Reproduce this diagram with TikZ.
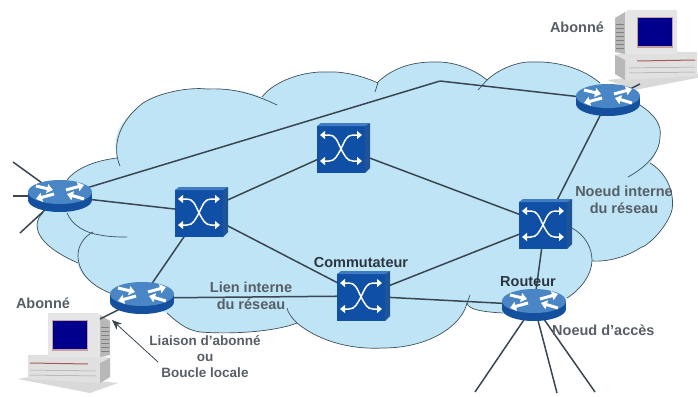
\documentclass[tikz,border=0pt]{standalone}
\usepackage{fontspec}
\setmainfont{Liberation Sans}
\usetikzlibrary{arrows.meta}
\definecolor{cloudfill}{HTML}{BEE4F6}
\definecolor{cloudline}{HTML}{3F5058}
\definecolor{linkcol}{HTML}{3A4650}
\definecolor{swfront}{HTML}{0F50A6}
\definecolor{swtop}{HTML}{3F7CC4}
\definecolor{swside}{HTML}{1F5596}
\definecolor{rttop}{HTML}{4A86C6}
\definecolor{rtside}{HTML}{14509E}
\definecolor{txtdark}{HTML}{2B3640}
\definecolor{txtgray}{HTML}{565E66}
\tikzset{
  x=1pt,y=-1pt,
  devpt/.style={inner sep=0pt,minimum size=0pt},
  outline/.style={draw=cloudline,line width=0.7pt},
  link/.style={draw=linkcol,line width=1.5pt},
  darklabel/.style={font=\fontsize{14.5}{17}\selectfont\bfseries,text=txtdark,align=center,inner sep=0pt},
  graylabel/.style={font=\fontsize{14.5}{17}\selectfont\bfseries,text=txtgray,align=center,inner sep=0pt},
  smalllabel/.style={font=\fontsize{13.5}{16}\selectfont\bfseries,text=txtgray,align=center,inner sep=0pt},
  rarrow/.style={white,line width=3pt,-{Triangle[length=6pt,width=9pt]}},
  sarrow/.style={white,line width=1.5pt,{Triangle[length=5pt,width=8pt]}-{Triangle[length=5pt,width=8pt]}},
  routericon/.pic={
    \fill[rtside] (-32,-4) rectangle (32,4);
    \fill[rtside] (0,4) ellipse (32pt and 12pt);
    \fill[rttop] (0,-4) ellipse (32pt and 12pt);
    \draw[rarrow] (-24,-10) -- (-7,-6);
    \draw[rarrow] (6,-6) -- (24,-11);
    \draw[rarrow] (-6,-2) -- (-24,3);
    \draw[rarrow] (24,3) -- (7,-2);
  },
  switchicon/.pic={
    \fill[swfront] (-26,-22) rectangle (22,25);
    \fill[swtop] (-26,-22) -- (-22,-25) -- (27,-25) -- (22,-22) -- cycle;
    \fill[swside] (22,-22) -- (27,-25) -- (27,20) -- (22,25) -- cycle;
    \draw[sarrow] (-23,-13) -- (-14,-13) .. controls (-8,-13) and (-6,-8) .. (-2,1) .. controls (2,8) and (4,13) .. (10,13) -- (19,13);
    \draw[sarrow] (-23,13) -- (-14,13) .. controls (-8,13) and (-6,8) .. (-2,1) .. controls (2,-8) and (4,-13) .. (10,-13) -- (19,-13);
  },
  computericon/.pic={
    \fill[black!15] (-8,70) -- (70,62) -- (92,66) -- (20,80) -- cycle;
    \fill[black!12] (0,45) -- (10,42) -- (82,42) -- (82,66) -- (10,70) -- (0,64) -- cycle;
    \fill[black!28] (0,45) -- (10,50) -- (10,70) -- (0,64) -- cycle;
    \draw[red!30!gray,line width=1pt] (22,51) -- (80,50);
    \draw[gray!70,line width=0.5pt] (14,58) -- (80,57);
    \draw[gray!70,line width=0.5pt] (14,63) -- (80,62);
    \fill[black!28] (0,8) -- (10,2) -- (10,44) -- (0,42) -- cycle;
    \foreach \k in {14,18,...,38} \draw[gray,line width=0.5pt] (1,\k) -- (9,\k);
    \fill[black!10] (10,2) -- (13,0) -- (62,0) -- (62,44) -- (10,44) -- cycle;
    \fill[red!25!gray!60!white] (22,7) rectangle (58,38);
    \fill[blue!55!black] (23,8) rectangle (57,36);
  }
}
\begin{document}
\begin{tikzpicture}
\useasboundingbox (0,0) rectangle (698,396);
% cloud body
\fill[cloudfill] (60,190) -- (67,180) .. controls (78,166) and (100,160) .. (117,158)
  .. controls (113,140) and (115,125) .. (143,103)
  .. controls (160,92) and (190,87) .. (207,89)
  .. controls (230,88) and (250,92) .. (262,97)
  .. controls (275,80) and (305,71) .. (327,72)
  .. controls (345,71) and (365,77) .. (377,83)
  .. controls (392,68) and (412,62) .. (433,62)
  .. controls (455,61) and (475,70) .. (487,80)
  .. controls (500,68) and (520,61) .. (533,62)
  .. controls (560,61) and (585,70) .. (600,83)
  -- (640,105)
  .. controls (655,115) and (662,125) .. (660,137)
  .. controls (660,145) and (656,155) .. (650,163)
  .. controls (665,172) and (675,190) .. (672,210)
  .. controls (668,225) and (650,245) .. (640,248)
  .. controls (625,258) and (605,262) .. (592,261)
  .. controls (592,275) and (580,290) .. (567,298)
  -- (503,313)
  .. controls (485,312) and (468,310) .. (467,303)
  .. controls (462,325) and (430,348) .. (383,348)
  .. controls (345,350) and (315,338) .. (297,323)
  .. controls (280,330) and (240,335) .. (200,332)
  .. controls (185,330) and (175,320) .. (167,313)
  -- (110,293)
  .. controls (90,285) and (78,272) .. (78,263)
  .. controls (55,253) and (37,240) .. (37,225)
  .. controls (37,220) and (40,215) .. (43,213)
  -- cycle;
% cloud outline
\draw[outline] (67,180) .. controls (78,166) and (100,160) .. (117,158);
\draw[outline] (120,166) .. controls (113,150) and (115,125) .. (143,103)
  .. controls (160,92) and (190,87) .. (207,89)
  .. controls (230,88) and (250,92) .. (277,105);
\draw[outline] (262,97) .. controls (275,80) and (305,71) .. (327,72)
  .. controls (345,71) and (365,77) .. (378,83) -- (375,92);
\draw[outline] (377,83) .. controls (392,68) and (412,62) .. (433,62)
  .. controls (455,61) and (475,70) .. (487,80) -- (478,90);
\draw[outline] (487,80) .. controls (500,68) and (520,61) .. (533,62)
  .. controls (560,61) and (585,70) .. (600,83);
\draw[outline] (640,105) .. controls (655,115) and (662,125) .. (660,137)
  .. controls (660,150) and (650,165) .. (628,177);
\draw[outline] (650,163) .. controls (665,172) and (675,190) .. (672,210)
  .. controls (668,225) and (650,245) .. (640,248)
  .. controls (625,258) and (605,262) .. (592,261);
\draw[outline] (572,228) .. controls (585,235) and (592,248) .. (592,260)
  .. controls (592,275) and (580,290) .. (567,298);
\draw[outline] (503,313) .. controls (485,312) and (468,310) .. (467,303) -- (470,295);
\draw[outline] (467,303) .. controls (462,325) and (430,348) .. (383,348)
  .. controls (345,350) and (315,338) .. (297,323)
  .. controls (292,318) and (288,313) .. (287,308);
\draw[outline] (297,323) .. controls (280,330) and (240,335) .. (200,332)
  .. controls (185,330) and (175,320) .. (167,313);
\draw[outline] (110,293) .. controls (90,285) and (78,272) .. (78,255)
  .. controls (78,245) and (85,236) .. (93,232);
\draw[outline] (78,263) .. controls (55,253) and (37,240) .. (37,225)
  .. controls (37,220) and (40,215) .. (43,213);
\draw[outline] (67,213) .. controls (72,225) and (85,233) .. (100,235)
  .. controls (110,237) and (120,237) .. (127,237);
% anchors of the devices
\node[devpt] (r1) at (60,196) {};
\node[devpt] (r2) at (142,298) {};
\node[devpt] (r3) at (608,100) {};
\node[devpt] (r4) at (534,305) {};
\node[devpt] (s1) at (343,148) {};
\node[devpt] (s2) at (201,212) {};
\node[devpt] (s3) at (363,296) {};
\node[devpt] (s4) at (545,224) {};
\node[devpt] (bend) at (440,81) {};
\node[devpt] (c1) at (110,313) {};
\node[devpt] (c2) at (615,10) {};
\coordinate (e1) at (13,162);
\coordinate (e2) at (13,196);
\coordinate (e3) at (20,233);
\coordinate (e4) at (475,392);
\coordinate (e5) at (557,393);
\coordinate (e6) at (595,392);
\coordinate (cl2) at (100,319);
\coordinate (cl3) at (640,84);
\coordinate (loop) at (158,362);
\coordinate (looptip) at (112,320);
% computers
\pic at (c2) {computericon};
\pic[xscale=-1] at (c1) {computericon};
% connectors
\draw[link] (r1) -- (bend) -- ([shift={(0,-8)}]r3);
\draw[link] (r1) -- (s2);
\draw[link] ([shift={(0,6)}]s2) -- ([shift={(0,18)}]s1);
\draw[link] ([shift={(0,16)}]s1) -- ([shift={(0,5)}]s4);
\draw[link] ([shift={(0,-2)}]s2) -- ([shift={(0,10)}]s3);
\draw[link] ([shift={(5,0)}]s2) -- ([shift={(-5,0)}]r2);
\draw[link] ([shift={(0,-6)}]r2) -- ([shift={(0,5)}]s3);
\draw[link] (s3) -- (s4);
\draw[link] (s3) -- (r4);
\draw[link] ([shift={(5,0)}]s4) -- ([shift={(11,0)}]r4);
\draw[link] ([shift={(-11,0)}]r3) -- ([shift={(17,-24)}]s4);
\draw[link] (r1) -- (e1);
\draw[link] (r1) -- (e2);
\draw[link] ([shift={(12,0)}]r1) -- (e3);
\draw[link] ([shift={(-12,0)}]r4) -- (e4);
\draw[link] ([shift={(-6,0)}]r4) -- (e5);
\draw[link] ([shift={(-6,0)}]r4) -- (e6);
\draw[link] (r2) -- (cl2);
\draw[link] (r3) -- (cl3);
% devices
\pic at (r1) {routericon};
\pic at (r2) {routericon};
\pic at (r3) {routericon};
\pic at (r4) {routericon};
\pic at (s1) {switchicon};
\pic at (s2) {switchicon};
\pic at (s3) {switchicon};
\pic at (s4) {switchicon};
\draw[linkcol,line width=0.8pt,-{Stealth[length=10pt,width=8pt]}] (loop) -- (looptip);
% labels
\node[graylabel] (t1) at (577,27) {Abonné};
\node[graylabel] (t2) at (43,303) {Abonné};
\node[darklabel] (t3) at (361,263) {Commutateur};
\node[darklabel] (t4) at (528,282) {Routeur};
\node[graylabel] (t5) at (624,200) {Noeud interne\\du réseau};
\node[graylabel] (t6) at (251,296) {Lien interne\\du réseau};
\node[smalllabel] (t7) at (205,357) {Liaison d'abonné\\ou\\Boucle locale};
\node[smalllabel,anchor=west,font=\fontsize{14.5}{17}\selectfont\bfseries] (t8) at (552,330) {Noeud d'accès};
\end{tikzpicture}
\end{document}
